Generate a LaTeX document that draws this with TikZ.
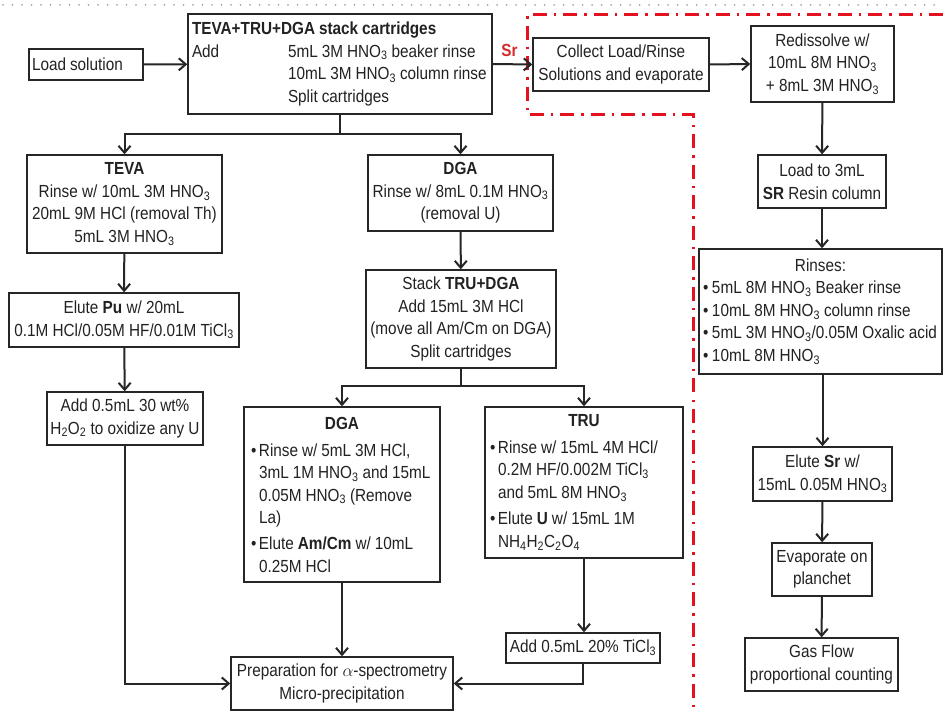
\documentclass[tikz,border=0pt]{standalone}
\usepackage{fontspec}
\setmainfont{Liberation Sans}[FakeStretch=0.875]
\usetikzlibrary{arrows.meta}

\definecolor{linegray}{HTML}{262626}
\definecolor{txt}{HTML}{222222}
\definecolor{srred}{HTML}{D42A2A}
\definecolor{dashred}{HTML}{E3121E}
\definecolor{dotgray}{HTML}{A8A8A8}

\newcommand\bxfont{\fontsize{17.5}{22.5}\selectfont}
% normal word spaces inside left-aligned text blocks
\newcommand\tsp{\spaceskip=4pt plus 1pt minus 0.5pt\relax}
\newcommand\chsub[1]{\textsubscript{#1}}
\newcommand\bul{\textbullet}
\newcommand\itm[1]{\mbox{\makebox[8pt][l]{\bul}#1}}
\newcommand\cont[1]{\mbox{\hspace*{8pt}#1}}

\tikzset{
  box/.style={draw=linegray, line width=1.4pt, inner sep=0pt, align=center,
              text=txt, font=\bxfont},
  conn/.style={draw=linegray, line width=2pt},
  arr/.style={conn, -{Straight Barb[length=7pt,width=12pt]}},
}

\begin{document}
\begin{tikzpicture}[x=1pt,y=-1pt]
\useasboundingbox (0,0) rectangle (943,711);
\fill[white] (0,0) rectangle (943,711);

% page rule and the Sr region
\draw[dotgray, line width=2pt, dash pattern=on 0pt off 9.5pt, line cap=round]
  (3,5) -- (943,5);
\draw[dashred, line width=3pt, dash pattern=on 14pt off 7pt on 2.5pt off 7pt]
  (943,15) -- (527,15) -- (527,115) -- (693,115) -- (693,711);

% ---- main column ----
\node[box, minimum width=114pt, minimum height=31pt, text width=108pt, align=left]
  (load) at (86,64.5) {\tsp\mbox{Load solution}};

\node[box, minimum width=304pt, minimum height=100pt, text width=296pt, align=left]
  (main) at (340,64) {\tsp\mbox{\textbf{TEVA+TRU+DGA stack cartridges}}\\
  \mbox{\makebox[96pt][l]{Add}5mL 3M HNO\chsub3 beaker rinse}\\
  \mbox{\hspace*{96pt}10mL 3M HNO\chsub3 column rinse}\\
  \mbox{\hspace*{96pt}Split cartridges}};

\node[box, minimum width=195pt, minimum height=98pt] (teva) at (124.5,204)
  {\textbf{TEVA}\\Rinse w/ 10mL 3M HNO\chsub3\\20mL 9M HCl (removal Th)\\5mL 3M HNO\chsub3};

\node[box, minimum width=230pt, minimum height=54pt] (pu) at (124,320)
  {Elute \textbf{Pu} w/ 20mL\\0.1M HCl/0.05M HF/0.01M TiCl\chsub3};

\node[box, minimum width=156pt, minimum height=53pt] (hoo) at (125,418.5)
  {Add 0.5mL 30 wt\%\\H\chsub2O\chsub2 to oxidize any U};

\node[box, minimum width=185pt, minimum height=76pt] (dgaA) at (460.5,193)
  {\textbf{DGA}\\Rinse w/ 8mL 0.1M HNO\chsub3\\(removal U)};

\node[box, minimum width=190pt, minimum height=98pt] (stack) at (461,319)
  {Stack \textbf{TRU+DGA}\\Add 15mL 3M HCl\\(move all Am/Cm on DGA)\\Split cartridges};

\node[box, minimum width=196pt, minimum height=175pt, text width=182pt, align=left]
  (dgaB) at (342,494.5)
  {\tsp\makebox[\linewidth]{\textbf{DGA}}\\[4.5pt]
   \itm{Rinse w/ 5mL 3M HCl,}\\
   \cont{3mL 1M HNO\chsub3 and 15mL}\\
   \cont{0.05M HNO\chsub3 (Remove}\\
   \cont{La)}\\[3.5pt]
   \itm{Elute \textbf{Am/Cm} w/ 10mL}\\
   \cont{0.25M HCl}};

\node[box, minimum width=198pt, minimum height=151pt, text width=188pt, align=left]
  (tru) at (584,482.5)
  {\tsp\makebox[\linewidth]{\textbf{TRU}}\\[4pt]
   \itm{Rinse w/ 15mL 4M HCl/}\\
   \cont{0.2M HF/0.002M TiCl\chsub3}\\
   \cont{and 5mL 8M HNO\chsub3}\\[4pt]
   \itm{Elute \textbf{U} w/ 15mL 1M}\\
   \cont{NH\chsub4H\chsub2C\chsub2O\chsub4}};

\node[box, minimum width=154pt, minimum height=30pt] (ticl) at (583,648)
  {Add 0.5mL 20\% TiCl\chsub3};

\node[box, minimum width=222pt, minimum height=53pt] (prep) at (342,683.5)
  {Preparation for $\alpha$-spectrometry\\Micro-precipitation};

% ---- Sr column ----
\node[box, minimum width=176pt, minimum height=53pt] (collect) at (621,64.5)
  {Collect Load/Rinse\\Solutions and evaporate};

\node[box, minimum width=143pt, minimum height=76pt] (redis) at (822.5,64)
  {Redissolve w/\\10mL 8M HNO\chsub3\\+ 8mL 3M HNO\chsub3};

\node[box, minimum width=128pt, minimum height=53pt] (loadsr) at (822,181.5)
  {Load to 3mL\\\textbf{SR} Resin column};

\node[box, minimum width=243pt, minimum height=125pt, text width=235pt, align=left]
  (rinses) at (820.5,311.5)
  {\tsp\makebox[\linewidth]{Rinses:}\\
   \mbox{\makebox[9pt][l]{\bul}5mL 8M HNO\chsub3 Beaker rinse}\\
   \mbox{\makebox[9pt][l]{\bul}10mL 8M HNO\chsub3 column rinse}\\
   \mbox{\makebox[9pt][l]{\bul}5mL 3M HNO\chsub3/0.05M Oxalic acid}\\
   \mbox{\makebox[9pt][l]{\bul}10mL 8M HNO\chsub3}};

\node[box, minimum width=139pt, minimum height=54pt] (elutesr) at (822.5,474)
  {Elute \textbf{Sr} w/\\15mL 0.05M HNO\chsub3};

\node[box, minimum width=100pt, minimum height=53pt] (evap) at (822,569.5)
  {Evaporate on\\planchet};

\node[box, minimum width=153pt, minimum height=53pt] (gas) at (821.5,664.5)
  {Gas Flow\\proportional counting};

\node[font=\bxfont\bfseries, text=srred, inner sep=0pt] (srlab) at (509.5,50) {Sr};

% ---- connectors ----
\coordinate (splitA) at (340,134);
\coordinate (splitB) at (461,386);

\draw[arr] (load) -- (main);
\draw[arr] (main.east) -- (collect.west);
\draw[arr] (collect.east) -- (redis.west);

\draw[conn] (main.south) -- (splitA);
\draw[arr] (splitA) -| (teva.north);
\draw[arr] (splitA) -| (dgaA.north);

\draw[arr] (teva) -- (pu);
\draw[arr] (pu) -- (hoo);
\draw[arr] (hoo.south) |- (prep.west);

\draw[arr] (dgaA) -- (stack);
\draw[conn] (stack.south) -- (splitB);
\draw[arr] (splitB) -| (dgaB.north);
\draw[arr] (splitB) -| (tru.north);

\draw[arr] (dgaB.south) -- (prep.north);
\draw[arr] (tru.south) -- (tru.south |- ticl.north);
\draw[arr] (ticl.south) |- (prep.east);

\draw[arr] (redis) -- (loadsr);
\draw[arr] (loadsr.south) -- (loadsr.south |- rinses.north);
\draw[arr] (rinses.south -| elutesr.north) -- (elutesr.north);
\draw[arr] (elutesr) -- (evap);
\draw[arr] (evap) -- (gas);
\end{tikzpicture}
\end{document}
